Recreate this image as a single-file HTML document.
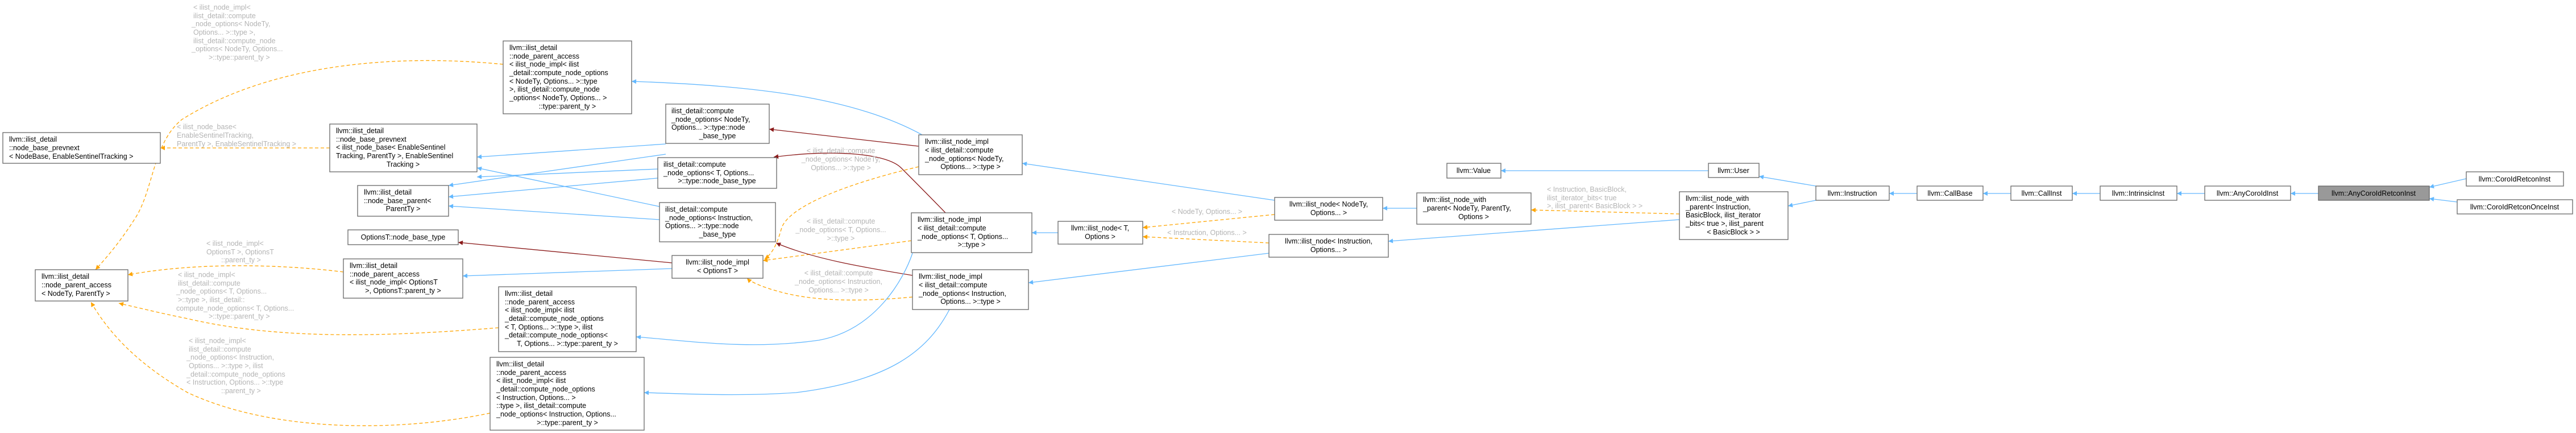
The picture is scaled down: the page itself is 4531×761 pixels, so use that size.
<!DOCTYPE html>
<html><head><meta charset="utf-8"><style>
html,body{margin:0;padding:0;background:#fff;}
svg{display:block;}
text{font-family:"Liberation Sans",sans-serif;font-size:12.5px;fill:#000;}
.l text{fill:#b4b4b4;}
rect{fill:#fff;stroke:#666;stroke-width:1.3;}
.b{stroke:#63b8ff;stroke-width:1.3;fill:none;}
.o{stroke:#ffa500;stroke-width:1.3;fill:none;stroke-dasharray:6,4;}
.r{stroke:#8b1a1a;stroke-width:1.3;fill:none;}
</style></head><body>
<svg width="4531" height="761" viewBox="0 0 4531 761" xmlns="http://www.w3.org/2000/svg">
<defs>
<marker id="mb" viewBox="0 0 10 10" refX="10" refY="5" markerWidth="10" markerHeight="8" markerUnits="userSpaceOnUse" orient="auto"><path d="M0,0L10,5L0,10z" fill="#63b8ff"/></marker>
<marker id="mo" viewBox="0 0 10 10" refX="10" refY="5" markerWidth="10" markerHeight="8" markerUnits="userSpaceOnUse" orient="auto"><path d="M0,0L10,5L0,10z" fill="#ffa500"/></marker>
<marker id="mr" viewBox="0 0 10 10" refX="10" refY="5" markerWidth="10" markerHeight="8" markerUnits="userSpaceOnUse" orient="auto"><path d="M0,0L10,5L0,10z" fill="#8b1a1a"/></marker>
</defs>

<!-- edges right part -->
<path class="b" marker-end="url(#mb)" d="M4078,340L4029,340"/>
<path class="b" marker-end="url(#mb)" d="M4338,314L4273,329"/>
<path class="b" marker-end="url(#mb)" d="M4322,355L4273,349"/>
<path class="b" marker-end="url(#mb)" d="M3878,340L3829,340"/>
<path class="b" marker-end="url(#mb)" d="M3694,340L3645,340"/>
<path class="b" marker-end="url(#mb)" d="M3537,340L3488,340"/>
<path class="b" marker-end="url(#mb)" d="M3372,340L3323,340"/>
<path class="b" marker-end="url(#mb)" d="M3194,327L3094,310"/>
<path class="b" marker-end="url(#mb)" d="M3194,352L3145,362"/>
<path class="b" marker-end="url(#mb)" d="M3005,300L2640,300"/>
<path class="o" marker-end="url(#mo)" d="M2954,376L2693,369"/>
<path class="b" marker-end="url(#mb)" d="M2954,386L2442,424"/>
<path class="b" marker-end="url(#mb)" d="M2492,366L2432,366"/>
<path class="o" marker-end="url(#mo)" d="M2242,377L2010,400"/>
<path class="o" marker-end="url(#mo)" d="M2232,427L2010,416"/>
<path class="b" marker-end="url(#mb)" d="M1861,409L1815,409"/>
<path class="b" marker-end="url(#mb)" d="M2242,352L1798,287"/>
<path class="b" marker-end="url(#mb)" d="M2232,445L1809,497"/>

<!-- impl -> impl<OptionsT> -->
<path class="o" marker-end="url(#mo)" d="M1616,293C1500,320 1390,360 1375,400C1368,425 1360,445 1345,455"/>
<path class="o" marker-end="url(#mo)" d="M1603,423L1342,458"/>
<path class="o" marker-end="url(#mo)" d="M1605,522C1520,530 1440,530 1380,515C1340,505 1320,495 1314,489"/>
<!-- red -->
<path class="r" marker-end="url(#mr)" d="M1616,257L1353,227"/>
<path class="r" marker-end="url(#mr)" d="M1663,374C1630,340 1600,310 1585,295C1560,270 1470,262 1361,276"/>
<path class="r" marker-end="url(#mr)" d="M1605,484C1520,470 1430,455 1365,427"/>
<path class="r" marker-end="url(#mr)" d="M1182,462L806,426"/>
<!-- impl -> node_parent_access -->
<path class="b" marker-end="url(#mb)" d="M1622,237C1500,170 1320,150 1111,143"/>
<path class="b" marker-end="url(#mb)" d="M1605,445C1590,490 1540,580 1440,598C1320,615 1220,600 1119,592"/>
<path class="b" marker-end="url(#mb)" d="M1670,544C1630,620 1560,670 1400,690C1300,697 1200,692 1133,690"/>
<path class="b" marker-end="url(#mb)" d="M1182,472L814,485"/>
<!-- compute -> prevnext / base_parent -->
<path class="b" marker-end="url(#mb)" d="M1171,253L839,276"/>
<path class="b" marker-end="url(#mb)" d="M1171,271L789,326"/>
<path class="b" marker-end="url(#mb)" d="M1157,297L839,311"/>
<path class="b" marker-end="url(#mb)" d="M1157,313L789,346"/>
<path class="b" marker-end="url(#mb)" d="M1160,363L839,295"/>
<path class="b" marker-end="url(#mb)" d="M1160,386L789,362"/>
<!-- orange left -->
<path class="o" marker-end="url(#mo)" d="M580,260L282,260"/>
<path class="o" marker-end="url(#mo)" d="M885,113C700,95 480,110 320,210C270,250 270,330 240,380C215,420 190,450 168,474"/>
<path class="o" marker-end="url(#mo)" d="M604,478C500,465 350,460 225,483"/>
<path class="o" marker-end="url(#mo)" d="M877,576C700,590 500,600 330,560C280,550 240,540 209,533"/>
<path class="o" marker-end="url(#mo)" d="M862,726C700,760 480,760 330,690C260,650 200,600 160,531"/>

<!-- labels -->
<g class="l">
<text x="340" y="17">&lt; ilist_node_impl&lt;</text>
<text x="340" y="32">ilist_detail::compute</text>
<text x="337" y="46">_node_options&lt; NodeTy,</text>
<text x="340" y="61">Options... &gt;::type &gt;,</text>
<text x="340" y="76">ilist_detail::compute_node</text>
<text x="337" y="90">_options&lt; NodeTy, Options...</text>
<text x="367" y="105">&gt;::type::parent_ty &gt;</text>
<text x="311" y="227">&lt; ilist_node_base&lt;</text>
<text x="311" y="242">EnableSentinelTracking,</text>
<text x="311" y="257">ParentTy &gt;, EnableSentinelTracking &gt;</text>
<text x="363" y="432">&lt; ilist_node_impl&lt;</text>
<text x="363" y="447">OptionsT &gt;, OptionsT</text>
<text x="389" y="461">::parent_ty &gt;</text>
<text x="313" y="487">&lt; ilist_node_impl&lt;</text>
<text x="313" y="502">ilist_detail::compute</text>
<text x="310" y="516">_node_options&lt; T, Options...</text>
<text x="313" y="531">&gt;::type &gt;, ilist_detail::</text>
<text x="310" y="546">compute_node_options&lt; T, Options...</text>
<text x="367" y="560">&gt;::type::parent_ty &gt;</text>
<text x="332" y="603">&lt; ilist_node_impl&lt;</text>
<text x="332" y="618">ilist_detail::compute</text>
<text x="328" y="632">_node_options&lt; Instruction,</text>
<text x="332" y="647">Options... &gt;::type &gt;, ilist</text>
<text x="328" y="662">_detail::compute_node_options</text>
<text x="328" y="676">&lt; Instruction, Options... &gt;::type</text>
<text x="389" y="691">::parent_ty &gt;</text>
<g text-anchor="middle">
<text x="1479" y="269">&lt; ilist_detail::compute</text>
<text x="1479" y="284">_node_options&lt; NodeTy,</text>
<text x="1479" y="299">Options... &gt;::type &gt;</text>
<text x="1479" y="393">&lt; ilist_detail::compute</text>
<text x="1479" y="408">_node_options&lt; T, Options...</text>
<text x="1479" y="423">&gt;::type &gt;</text>
<text x="1475" y="484">&lt; ilist_detail::compute</text>
<text x="1475" y="499">_node_options&lt; Instruction,</text>
<text x="1475" y="514">Options... &gt;::type &gt;</text>
<text x="2123" y="376">&lt; NodeTy, Options... &gt;</text>
<text x="2123" y="413">&lt; Instruction, Options... &gt;</text>
</g>
<text x="2721" y="337">&lt; Instruction, BasicBlock,</text>
<text x="2721" y="352">ilist_iterator_bits&lt; true</text>
<text x="2721" y="366">&gt;, ilist_parent&lt; BasicBlock &gt; &gt;</text>
</g>

<!-- nodes -->
<rect x="5" y="233" width="277" height="54"/>
<text x="16" y="249">llvm::ilist_detail</text><text x="16" y="264">::node_base_prevnext</text><text x="16" y="279">&lt; NodeBase, EnableSentinelTracking &gt;</text>

<rect x="62" y="474" width="163" height="55"/>
<text x="73" y="490">llvm::ilist_detail</text><text x="73" y="505">::node_parent_access</text><text x="73" y="520">&lt; NodeTy, ParentTy &gt;</text>

<rect x="885" y="72" width="226" height="128"/>
<text x="896" y="88">llvm::ilist_detail</text><text x="896" y="103">::node_parent_access</text><text x="896" y="117">&lt; ilist_node_impl&lt; ilist</text><text x="896" y="132">_detail::compute_node_options</text><text x="896" y="147">&lt; NodeTy, Options... &gt;::type</text><text x="896" y="161"> &gt;, ilist_detail::compute_node</text><text x="896" y="176">_options&lt; NodeTy, Options... &gt;</text><text x="998" y="191" text-anchor="middle">::type::parent_ty &gt;</text>

<rect x="580" y="218" width="259" height="84"/>
<text x="591" y="234">llvm::ilist_detail</text><text x="591" y="249">::node_base_prevnext</text><text x="591" y="263">&lt; ilist_node_base&lt; EnableSentinel</text><text x="591" y="278">Tracking, ParentTy &gt;, EnableSentinel</text><text x="709" y="293" text-anchor="middle">Tracking &gt;</text>

<rect x="629" y="326" width="160" height="54"/>
<text x="640" y="342">llvm::ilist_detail</text><text x="640" y="357">::node_base_parent&lt;</text><text x="709" y="371" text-anchor="middle">ParentTy &gt;</text>

<rect x="612" y="404" width="194" height="26"/>
<text x="709" y="421" text-anchor="middle">OptionsT::node_base_type</text>

<rect x="604" y="455" width="210" height="69"/>
<text x="615" y="471">llvm::ilist_detail</text><text x="615" y="486">::node_parent_access</text><text x="615" y="500">&lt; ilist_node_impl&lt; OptionsT</text><text x="709" y="515" text-anchor="middle">&gt;, OptionsT::parent_ty &gt;</text>

<rect x="877" y="504" width="242" height="114"/>
<text x="888" y="520">llvm::ilist_detail</text><text x="888" y="535">::node_parent_access</text><text x="888" y="549">&lt; ilist_node_impl&lt; ilist</text><text x="888" y="564">_detail::compute_node_options</text><text x="888" y="579">&lt; T, Options... &gt;::type &gt;, ilist</text><text x="888" y="593">_detail::compute_node_options&lt;</text><text x="998" y="608" text-anchor="middle">T, Options... &gt;::type::parent_ty &gt;</text>

<rect x="862" y="628" width="271" height="128"/>
<text x="873" y="644">llvm::ilist_detail</text><text x="873" y="659">::node_parent_access</text><text x="873" y="673">&lt; ilist_node_impl&lt; ilist</text><text x="873" y="688">_detail::compute_node_options</text><text x="873" y="703">&lt; Instruction, Options... &gt;</text><text x="873" y="717">::type &gt;, ilist_detail::compute</text><text x="873" y="732">_node_options&lt; Instruction, Options...</text><text x="998" y="747" text-anchor="middle">&gt;::type::parent_ty &gt;</text>

<rect x="1171" y="183" width="182" height="69"/>
<text x="1181" y="199">ilist_detail::compute</text><text x="1181" y="214">_node_options&lt; NodeTy,</text><text x="1181" y="228">Options... &gt;::type::node</text><text x="1262" y="243" text-anchor="middle">_base_type</text>

<rect x="1157" y="277" width="209" height="54"/>
<text x="1167" y="293">ilist_detail::compute</text><text x="1167" y="308">_node_options&lt; T, Options...</text><text x="1261" y="322" text-anchor="middle">&gt;::type::node_base_type</text>

<rect x="1160" y="356" width="204" height="69"/>
<text x="1170" y="372">ilist_detail::compute</text><text x="1170" y="387">_node_options&lt; Instruction,</text><text x="1170" y="401">Options... &gt;::type::node</text><text x="1262" y="416" text-anchor="middle">_base_type</text>

<rect x="1182" y="449" width="160" height="40"/>
<text x="1262" y="465" text-anchor="middle">llvm::ilist_node_impl</text><text x="1262" y="480" text-anchor="middle">&lt; OptionsT &gt;</text>

<rect x="1616" y="237" width="182" height="70"/>
<text x="1627" y="253">llvm::ilist_node_impl</text><text x="1627" y="268">&lt; ilist_detail::compute</text><text x="1627" y="283">_node_options&lt; NodeTy,</text><text x="1707" y="297" text-anchor="middle">Options... &gt;::type &gt;</text>

<rect x="1603" y="374" width="212" height="70"/>
<text x="1614" y="390">llvm::ilist_node_impl</text><text x="1614" y="405">&lt; ilist_detail::compute</text><text x="1614" y="420">_node_options&lt; T, Options...</text><text x="1709" y="434" text-anchor="middle">&gt;::type &gt;</text>

<rect x="1605" y="474" width="204" height="70"/>
<text x="1616" y="490">llvm::ilist_node_impl</text><text x="1616" y="505">&lt; ilist_detail::compute</text><text x="1616" y="520">_node_options&lt; Instruction,</text><text x="1707" y="534" text-anchor="middle">Options... &gt;::type &gt;</text>

<rect x="1861" y="389" width="149" height="40"/>
<text x="1935" y="405" text-anchor="middle">llvm::ilist_node&lt; T,</text><text x="1935" y="420" text-anchor="middle">Options &gt;</text>

<rect x="2242" y="347" width="190" height="40"/>
<text x="2337" y="363" text-anchor="middle">llvm::ilist_node&lt; NodeTy,</text><text x="2337" y="378" text-anchor="middle">Options... &gt;</text>

<rect x="2232" y="412" width="210" height="40"/>
<text x="2337" y="428" text-anchor="middle">llvm::ilist_node&lt; Instruction,</text><text x="2337" y="443" text-anchor="middle">Options... &gt;</text>

<rect x="2545" y="287" width="95" height="26"/>
<text x="2592" y="304" text-anchor="middle">llvm::Value</text>

<rect x="2492" y="339" width="201" height="55"/>
<text x="2503" y="355">llvm::ilist_node_with</text><text x="2503" y="370">_parent&lt; NodeTy, ParentTy,</text><text x="2592" y="385" text-anchor="middle">Options &gt;</text>

<rect x="2954" y="337" width="191" height="84"/>
<text x="2965" y="353">llvm::ilist_node_with</text><text x="2965" y="368">_parent&lt; Instruction,</text><text x="2965" y="382">BasicBlock, ilist_iterator</text><text x="2965" y="397">_bits&lt; true &gt;, ilist_parent</text><text x="3049" y="412" text-anchor="middle">&lt; BasicBlock &gt; &gt;</text>

<rect x="3005" y="287" width="89" height="25"/>
<text x="3049" y="304" text-anchor="middle">llvm::User</text>
<rect x="3194" y="327" width="129" height="25"/>
<text x="3258" y="344" text-anchor="middle">llvm::Instruction</text>
<rect x="3372" y="327" width="116" height="25"/>
<text x="3430" y="344" text-anchor="middle">llvm::CallBase</text>
<rect x="3537" y="327" width="108" height="25"/>
<text x="3591" y="344" text-anchor="middle">llvm::CallInst</text>
<rect x="3694" y="327" width="135" height="25"/>
<text x="3761" y="344" text-anchor="middle">llvm::IntrinsicInst</text>
<rect x="3878" y="327" width="151" height="25"/>
<text x="3953" y="344" text-anchor="middle">llvm::AnyCoroIdInst</text>
<rect x="4078" y="327" width="195" height="25" style="fill:#999"/>
<text x="4175" y="344" text-anchor="middle">llvm::AnyCoroIdRetconInst</text>
<rect x="4338" y="302" width="171" height="25"/>
<text x="4423" y="319" text-anchor="middle">llvm::CoroIdRetconInst</text>
<rect x="4322" y="351" width="203" height="25"/>
<text x="4423" y="368" text-anchor="middle">llvm::CoroIdRetconOnceInst</text>
</svg>
</body></html>
